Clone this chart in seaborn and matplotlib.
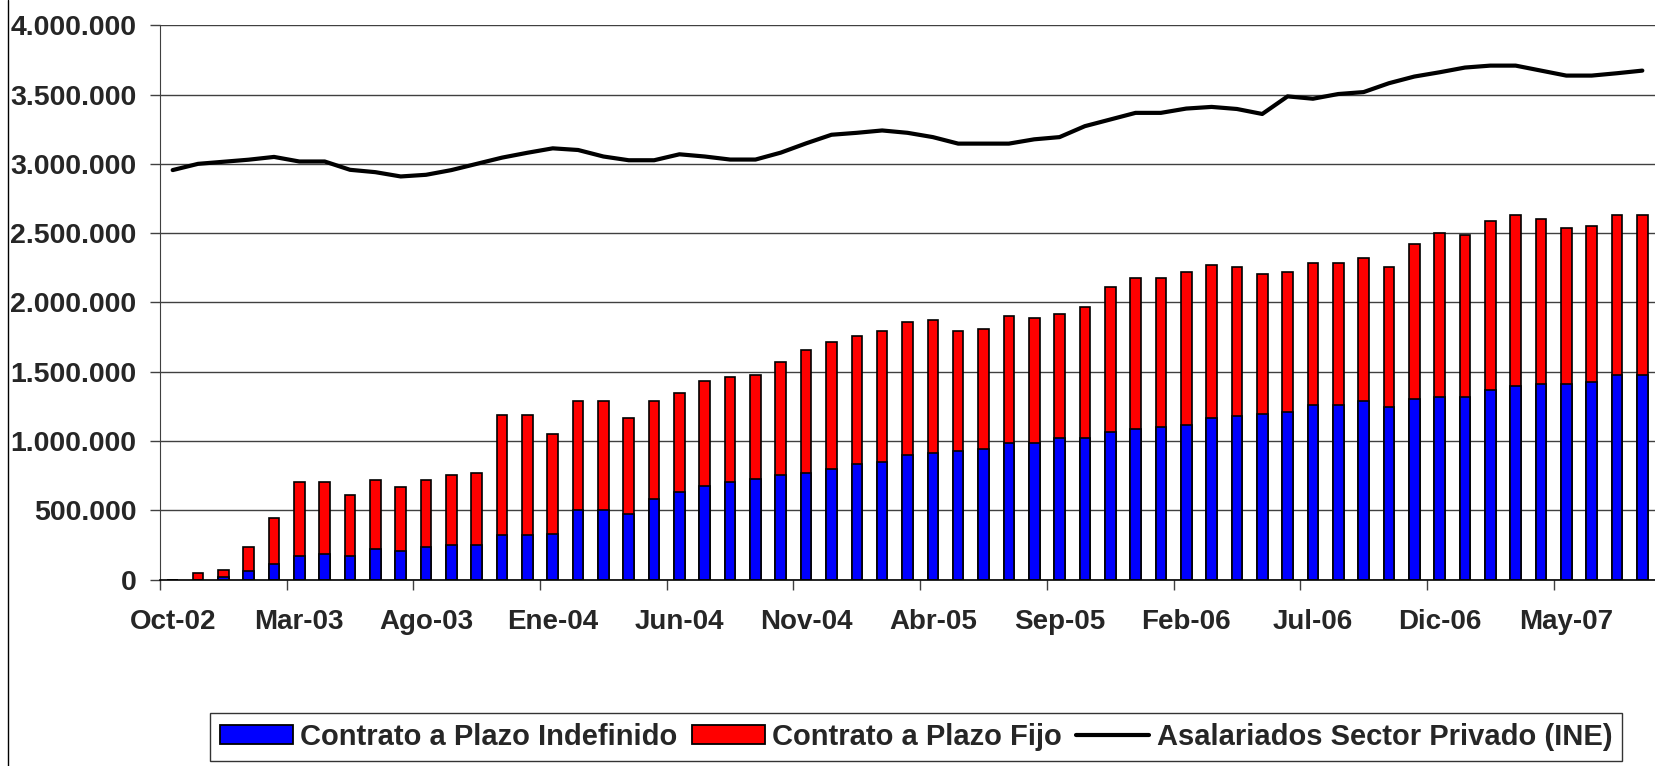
import numpy as np
import pandas as pd
import seaborn as sns
import matplotlib.pyplot as plt
from matplotlib.lines import Line2D
from matplotlib.patches import Patch
from matplotlib.ticker import FuncFormatter

# monthly series, Oct-02 .. Aug-07
meses = ['Ene', 'Feb', 'Mar', 'Abr', 'May', 'Jun', 'Jul', 'Ago', 'Sep', 'Oct', 'Nov', 'Dic']
n = 59
months = [f"{meses[(9 + i) % 12]}-{2 + (9 + i) // 12:02d}" for i in range(n)]

indefinido = [0, 0, 15000, 60000, 113000, 173000, 187000, 173000, 221000, 204000,
              235000, 252000, 247000, 324000, 324000, 325000, 501000, 501000, 470000, 583000,
              631000, 675000, 706000, 723000, 752000, 771000, 800000, 836000, 848000, 896000,
              913000, 925000, 940000, 988000, 988000, 1019000, 1019000, 1065000, 1084000, 1101000,
              1116000, 1164000, 1181000, 1193000, 1210000, 1258000, 1258000, 1287000, 1246000, 1301000,
              1320000, 1320000, 1366000, 1398000, 1414000, 1414000, 1429000, 1475000, 1475000]

fijo = [0, 48000, 50000, 177000, 328000, 534000, 520000, 438000, 498000, 467000,
        484000, 501000, 520000, 865000, 865000, 727000, 788000, 788000, 694000, 706000,
        718000, 756000, 757000, 754000, 821000, 882000, 916000, 925000, 945000, 959000,
        959000, 868000, 870000, 916000, 899000, 899000, 947000, 1045000, 1090000, 1073000,
        1106000, 1106000, 1074000, 1015000, 1012000, 1028000, 1028000, 1030000, 1009000, 1124000,
        1184000, 1169000, 1219000, 1230000, 1185000, 1123000, 1122000, 1153000, 1153000]

asalariados = [2955, 3000, 3015, 3030, 3050, 3017, 3017, 2957, 2940, 2909,
               2921, 2955, 3000, 3045, 3080, 3112, 3100, 3053, 3026, 3026,
               3069, 3053, 3031, 3031, 3081, 3148, 3210, 3224, 3241, 3224,
               3193, 3146, 3146, 3146, 3177, 3193, 3272, 3320, 3368, 3368,
               3399, 3411, 3396, 3360, 3487, 3470, 3504, 3518, 3582, 3630,
               3661, 3695, 3709, 3709, 3673, 3637, 3637, 3654, 3673]

df = pd.DataFrame({'mes': months, 'indef': indefinido, 'fijo': fijo,
                   'asal': np.array(asalariados) * 1000})
df['total'] = df['indef'] + df['fijo']

sns.set_style('white')
plt.rcParams['font.family'] = ['Liberation Sans', 'DejaVu Sans']
plt.rcParams['font.weight'] = 'bold'

W, H = 1655, 766
x0 = 160
fig = plt.figure(figsize=(W / 100, H / 100), dpi=100)
ax = fig.add_axes([x0 / W, 1 - 579.5 / H, 1 - x0 / W, (579.5 - 25.3) / H])

# stacked bars: red total underneath, blue indefinido on top
sns.barplot(data=df, x='mes', y='total', color='#FF0000', saturation=1, width=0.42,
            edgecolor='black', linewidth=1.2, errorbar=None, ax=ax)
sns.barplot(data=df, x='mes', y='indef', color='#0000FF', saturation=1, width=0.42,
            edgecolor='black', linewidth=1.2, errorbar=None, ax=ax)
sns.lineplot(x=np.arange(n), y=df['asal'].values, color='black', lw=3, ax=ax)

ax.set_xlim(-0.5, n - 0.5)
ax.set_ylim(0, 4000000)
ax.set_yticks(np.arange(0, 4000001, 500000))
ax.yaxis.set_major_formatter(FuncFormatter(lambda v, p: f"{int(v):,}".replace(',', '.')))
ax.yaxis.grid(True, color='#404040', lw=1)
ax.set_axisbelow(True)
for s in ['top', 'right']:
    ax.spines[s].set_visible(False)
ax.spines['left'].set_color('#404040')
ax.spines['bottom'].set_color('black')
ax.spines['bottom'].set_linewidth(1.2)

ax.set_xticks(range(0, n, 5))
ax.set_xticklabels(months[::5])
ax.set_xticks(np.arange(-0.5, n, 5), minor=True)
ax.tick_params(axis='x', which='major', bottom=True, length=0, pad=21, labelsize=20)
ax.tick_params(axis='x', which='minor', bottom=True, length=7, width=1, color='#404040')
ax.tick_params(axis='y', left=True, length=7, width=1, color='#404040', pad=10, labelsize=20.5)
ax.set_xlabel('')
ax.set_ylabel('')

handles = [Patch(fc='#0000FF', ec='black', lw=1.3, label='Contrato a Plazo Indefinido'),
           Patch(fc='#FF0000', ec='black', lw=1.3, label='Contrato a Plazo Fijo'),
           Line2D([], [], color='black', lw=3, label='Asalariados Sector Privado (INE)')]
leg = fig.legend(handles=handles, loc='center', bbox_to_anchor=(916 / W, 1 - 737 / H),
                 ncol=3, frameon=True, fancybox=False, edgecolor='black',
                 fontsize=21, handlelength=2.5, handleheight=0.63, handletextpad=0.25,
                 columnspacing=0.5, borderpad=0.35, borderaxespad=0)
leg.get_frame().set_linewidth(1)

# chart area border on the left
fig.add_artist(Line2D([7.5 / W] * 2, [0, 1], transform=fig.transFigure, color='black', lw=1))

fig.savefig('out.png', dpi=100)
